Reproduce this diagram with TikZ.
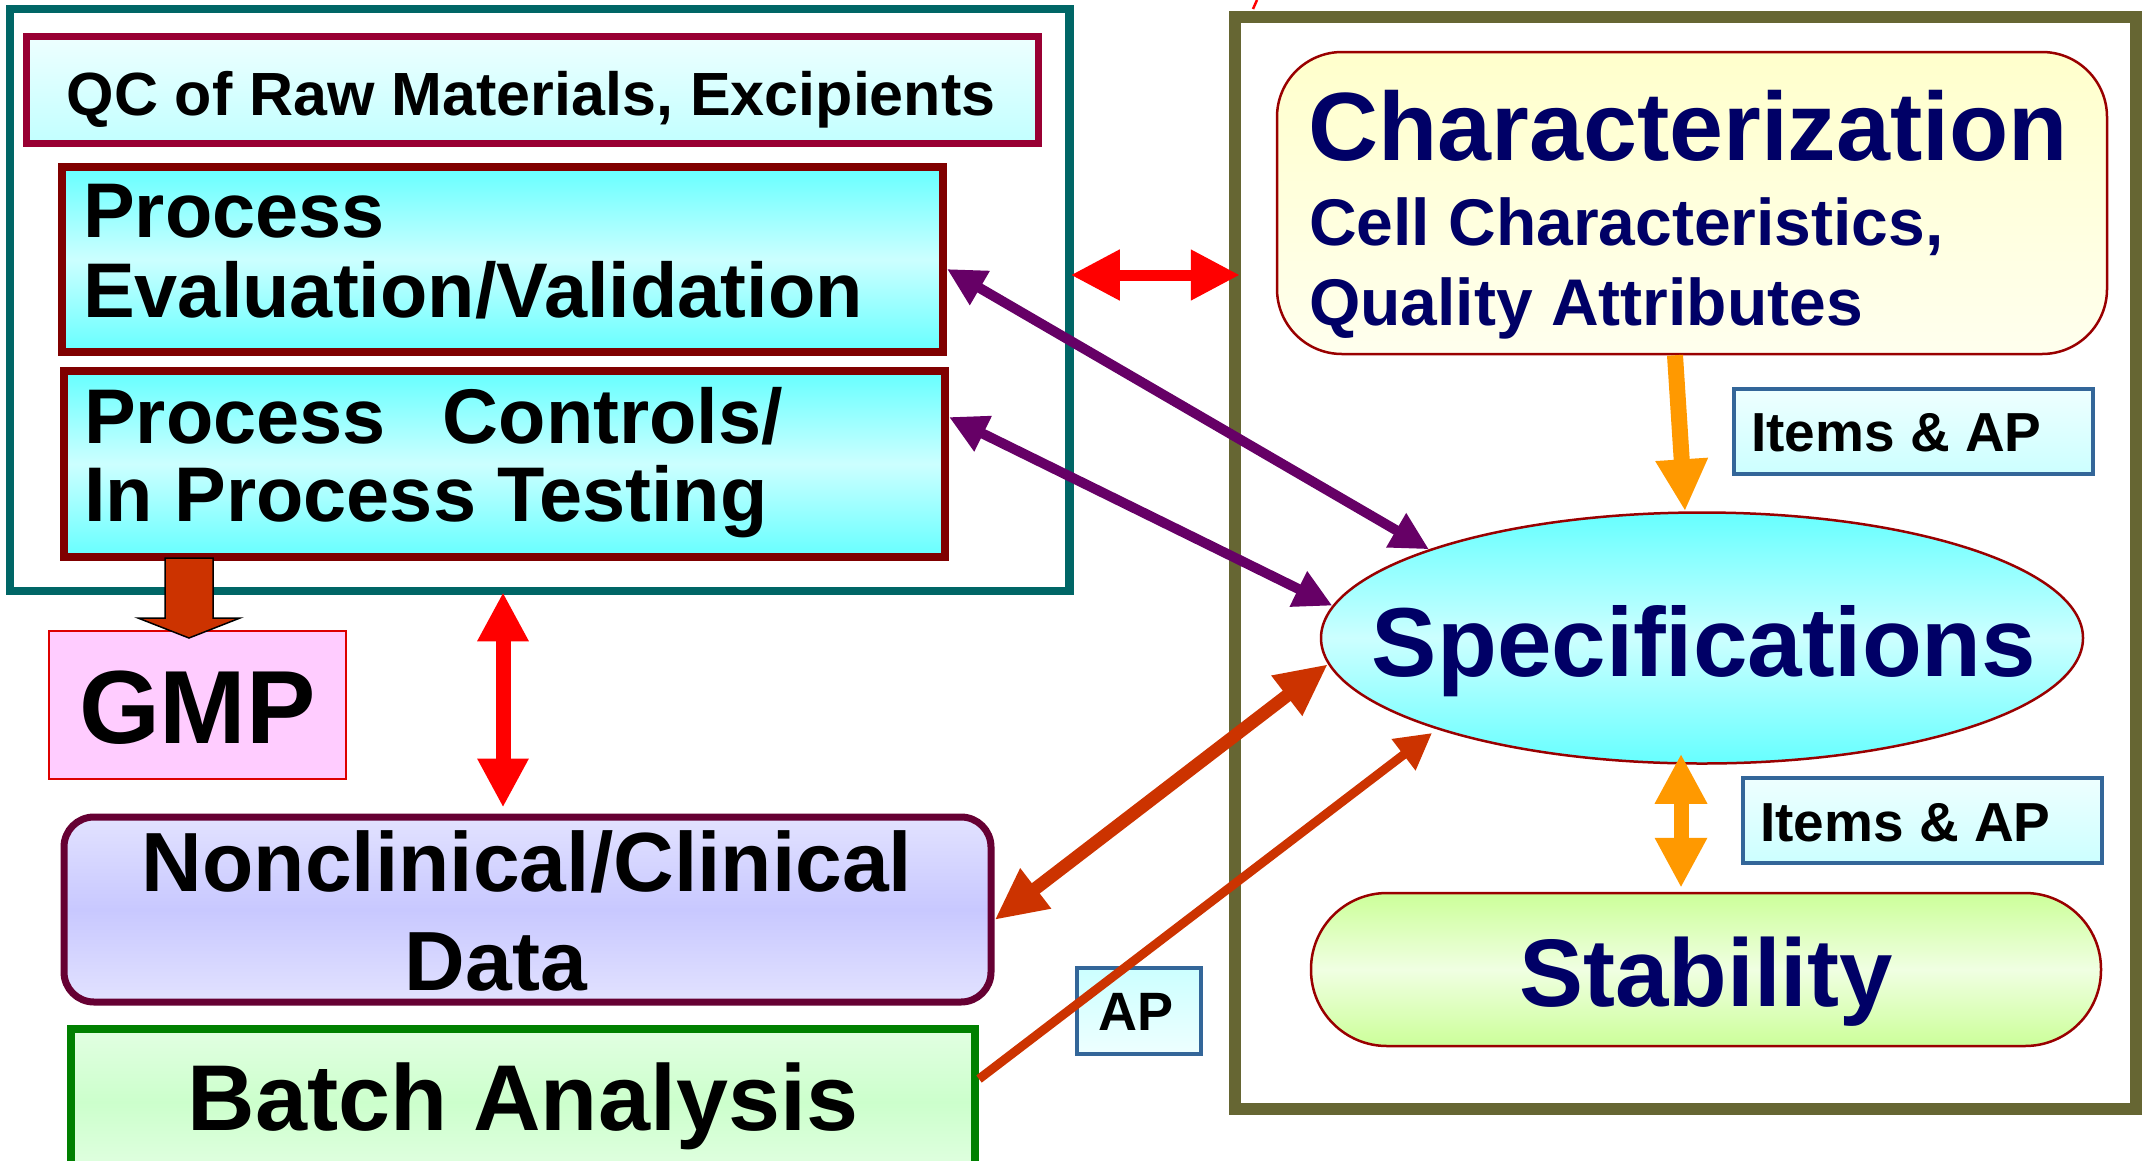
\documentclass[tikz,border=0pt]{standalone}
\usepackage{fontspec}
\setmainfont{Liberation Sans}
\usetikzlibrary{arrows.meta,shapes.geometric,calc}

\definecolor{tealline}{HTML}{006666}
\definecolor{qcline}{HTML}{990033}
\definecolor{procline}{HTML}{800000}
\definecolor{gmpline}{HTML}{DD0000}
\definecolor{gmpfill}{HTML}{FFCCFF}
\definecolor{ncdline}{HTML}{660033}
\definecolor{batchline}{HTML}{008000}
\definecolor{oliveline}{HTML}{666633}
\definecolor{chrline}{HTML}{990000}
\definecolor{tagline}{HTML}{336699}
\definecolor{navy}{HTML}{000066}
\definecolor{arrred}{HTML}{FF0000}
\definecolor{arrorange}{HTML}{FF9900}
\definecolor{arrpurple}{HTML}{660066}
\definecolor{rust}{HTML}{CC3300}
\definecolor{cyanA}{HTML}{66FFFF}
\definecolor{cyanB}{HTML}{CCFFFF}
\definecolor{cyanC}{HTML}{EEFFFF}
\definecolor{lavA}{HTML}{E2E2FF}
\definecolor{lavB}{HTML}{C8C8FF}
\definecolor{greenA}{HTML}{E2FFE2}
\definecolor{greenB}{HTML}{CCFFCC}
\definecolor{yelA}{HTML}{FFFFCC}
\definecolor{yelB}{HTML}{FFFFEE}
\definecolor{limeA}{HTML}{CCFF99}
\definecolor{limeB}{HTML}{F0FFE2}

\newcommand\sizeto[1]{\fontsize{#1}{#1}\selectfont}

\begin{document}
\begin{tikzpicture}[x=1pt,y=-1pt,
  frame/.style={draw, inner sep=0pt},
  txt/.style={inner sep=0pt, font=\bfseries},
  tag/.style={frame, draw=tagline, line width=4, top color=cyanC, bottom color=cyanB,
    minimum width=359, minimum height=85},
  cyanfill/.style={top color=cyanA, bottom color=cyanA, middle color=cyanB},
  redarr/.style={draw=arrred, line width=#1,
    {Triangle[length=49pt,width=48pt]}-{Triangle[length=49pt,width=48pt]}},
  orangearr/.style={draw=arrorange, line width=16},
  purplearr/.style={draw=arrpurple, line width=10,
    {Triangle[length=38pt,width=37pt]}-{Triangle[length=38pt,width=37pt]}},
  rustarr/.style={draw=rust, line width=#1},
  fatarrow/.style={fill=rust, draw=black, line width=1.5, line join=miter}
]
\useasboundingbox (0,0) rectangle (2150,1160);
\clip (0,0) rectangle (2150,1160);

% ---------- left group ----------
\node[frame, draw=tealline, line width=8.5, minimum width=1059.5, minimum height=582]
  (teal) at (539.75,300) {};
\node[frame, draw=qcline, line width=7, top color=cyanC, bottom color=cyanB!90!cyanA,
  minimum width=1012, minimum height=107] (qc) at (532,89.5) {};
\node[txt, anchor=base] (qct) at (531,115) {\sizeto{61}QC of Raw Materials, Excipients};

\node[frame, draw=procline, line width=8, cyanfill, minimum width=881, minimum height=185]
  (pev) at (502.5,259.5) {};
\node[txt, anchor=base west] (pevA) at (83,237) {\sizeto{77.5}Process};
\node[txt, anchor=base west] (pevB) at (83,317) {\sizeto{77.5}Evaluation/Validation};

\node[frame, draw=procline, line width=8, cyanfill, minimum width=881, minimum height=186]
  (pcont) at (504.5,464) {};
\node[txt, anchor=base west] (pcA) at (84,443) {\sizeto{77.5}Process\hspace{57pt}Controls/};
\node[txt, anchor=base west] (pcB) at (84,521) {\sizeto{77.5}In Process Testing};

\node[frame, draw=gmpline, line width=2.5, fill=gmpfill, minimum width=297, minimum height=148]
  (gmp) at (197.5,705) {};
\node[txt, anchor=base] (gmpt) at (197.5,743) {\sizeto{104}GMP};

\node[frame, draw=ncdline, line width=7, rounded corners=30,
  top color=lavA, bottom color=lavA, middle color=lavB,
  minimum width=927, minimum height=185] (ncd) at (527.5,909.5) {};
\node[txt, anchor=base] (ncdA) at (527,891) {\sizeto{84}Nonclinical/Clinical};
\node[txt, anchor=base] (ncdB) at (496,990) {\sizeto{84}Data};

\node[frame, draw=batchline, line width=8, top color=greenA, bottom color=greenA,
  middle color=greenB, minimum width=904, minimum height=146] (batch) at (523,1102) {};
\node[txt, anchor=base] (batcht) at (523,1130) {\sizeto{93.5}Batch Analysis};

\node[frame, draw=tagline, line width=4, top color=cyanB, bottom color=cyanC,
  minimum width=124, minimum height=86] (ap) at (1139,1011) {};
\node[txt, anchor=base] (apt) at (1136,1030) {\sizeto{54}AP};

% ---------- right group ----------
\node[frame, draw=oliveline, line width=12.5, minimum width=901, minimum height=1092]
  (olive) at (1685.5,563) {};
\draw[arrred, line width=2.5] (1253,9) -- (1257,0);

\node[frame, draw=chrline, line width=2.5, rounded corners=65,
  top color=yelA, bottom color=yelB, minimum width=830, minimum height=302]
  (chr) at (1692,203) {};
\node[txt, anchor=base west, text=navy] (chrA) at (1308,160) {\sizeto{97}Characterization};
\node[txt, anchor=base west, text=navy] (chrB) at (1309,245) {\sizeto{66}Cell Characteristics,};
\node[txt, anchor=base west, text=navy] (chrC) at (1309,325) {\sizeto{66}Quality Attributes};

\node[tag] (tag1) at (1913.5,431.5) {};
\node[txt, anchor=base west] (tag1t) at (1751,451) {\sizeto{55}Items \& AP};

\node[ellipse, frame, draw=chrline, line width=2.5, cyanfill,
  minimum width=762, minimum height=251] (spec) at (1702,638) {};
\node[txt, anchor=base, text=navy] (spect) at (1704,676) {\sizeto{98}Specifications};

\node[tag] (tag2) at (1922.5,820.5) {};
\node[txt, anchor=base west] (tag2t) at (1760,841) {\sizeto{55}Items \& AP};

\node[frame, draw=chrline, line width=2.5, rounded corners=76,
  top color=limeA, bottom color=limeA, middle color=limeB,
  minimum width=790, minimum height=153] (stab) at (1706,969.5) {};
\node[txt, anchor=base, text=navy] (stabt) at (1706,1006) {\sizeto{96}Stability};

% ---------- connectors ----------
\draw[redarr=11] ([xshift=-3pt]teal.east |- 0,275) -- ([xshift=11pt]olive.west |- 0,275);
\draw[redarr=15] ([yshift=3pt]teal.south -| 503,0) -- ([yshift=6pt]ncd.north -| 503,0);

\draw[orangearr, -{Triangle[length=52pt,width=49pt]}]
  (chr.south -| 1675,0) -- (spec.north -| 1685,0);
\draw[draw=arrorange, line width=15,
  {Triangle[length=50pt,width=49pt]}-{Triangle[length=50pt,width=49pt]}]
  ([yshift=11pt]spec.south -| 1681,0) -- ([yshift=4pt]stab.north -| 1681,0);

\draw[purplearr] (pev.east |- 0,269) -- (spec.162);
\draw[purplearr] (pcont.east |- 0,417) -- (spec.175);

\draw[rustarr=13, {Triangle[length=52pt,width=47pt]}-{Triangle[length=52pt,width=47pt]}]
  (ncd.east |- 0,920) -- (spec.184);
\draw[rustarr=9, -{Triangle[length=36pt,width=37pt]}, shorten >=6pt]
  (batch.east |- 0,1079) -- (spec.199);

% arrow block from the process controls box down onto GMP
\coordinate (gmpin) at (189,638);
\draw[fatarrow] (gmpin) -- ++(51,-20) -- ++(-27,0) -- ++(0,-60) -- ++(-48,0)
  -- ++(0,60) -- ++(-27,0) -- cycle;
\end{tikzpicture}
\end{document}
